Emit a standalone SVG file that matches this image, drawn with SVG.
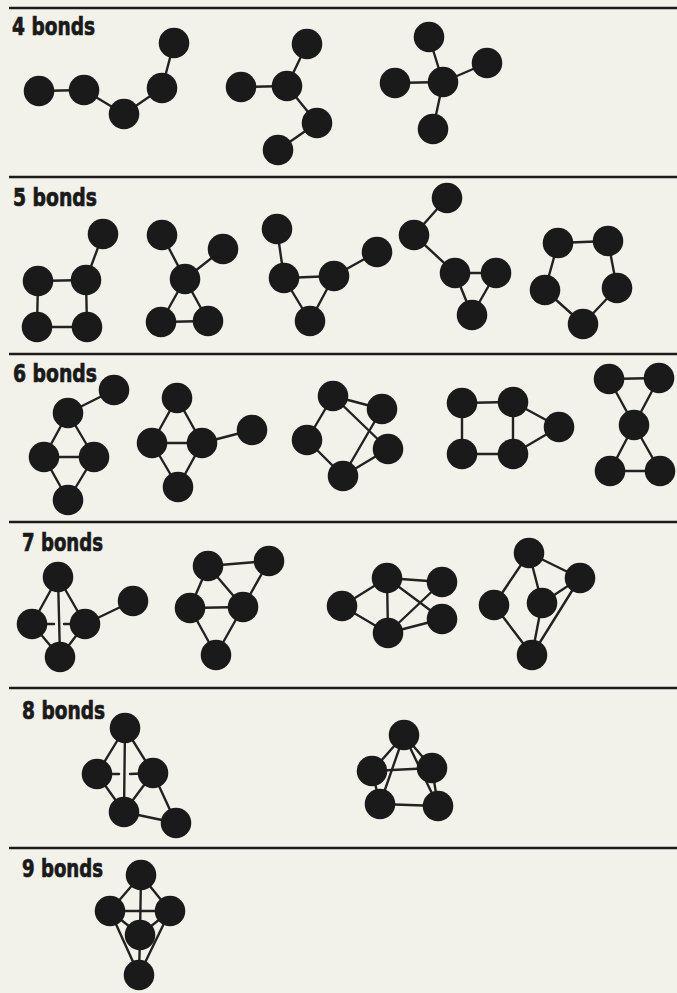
<svg xmlns="http://www.w3.org/2000/svg" width="677" height="993" viewBox="0 0 677 993">
<style>
.bg{fill:#f3f2ea}
.rule{stroke:#1c1c1c;stroke-width:2.6}
.b{stroke:#222;stroke-width:2.4;stroke-linecap:round}
.n{fill:#1a1a1a}
.lbl{font-family:"Liberation Sans Narrow","DejaVu Sans Condensed","Roboto Condensed","Liberation Sans",sans-serif;font-weight:bold;font-size:25px;fill:#1a1a1a;stroke:#1a1a1a;stroke-width:0.7}
</style>
<rect class="bg" x="0" y="0" width="677" height="993"/>
<g id="rules">
<line class="rule" x1="9" y1="8" x2="677" y2="8"/>
<line class="rule" x1="9" y1="177" x2="677" y2="177"/>
<line class="rule" x1="9" y1="354" x2="677" y2="354"/>
<line class="rule" x1="9" y1="522" x2="677" y2="522"/>
<line class="rule" x1="9" y1="688" x2="677" y2="688"/>
<line class="rule" x1="9" y1="848" x2="677" y2="848"/>
</g>
<g id="labels">
<text class="lbl" x="12" y="35" textLength="83" lengthAdjust="spacingAndGlyphs">4 bonds</text>
<text class="lbl" x="13" y="206" textLength="84" lengthAdjust="spacingAndGlyphs">5 bonds</text>
<text class="lbl" x="13" y="382" textLength="84" lengthAdjust="spacingAndGlyphs">6 bonds</text>
<text class="lbl" x="22" y="551" textLength="81" lengthAdjust="spacingAndGlyphs">7 bonds</text>
<text class="lbl" x="22" y="719" textLength="83" lengthAdjust="spacingAndGlyphs">8 bonds</text>
<text class="lbl" x="22" y="877" textLength="81" lengthAdjust="spacingAndGlyphs">9 bonds</text>
</g>
<g id="connectors">
<!-- 4 bonds -->
<line class="b" x1="39" y1="91" x2="84" y2="90"/>
<line class="b" x1="84" y1="90" x2="124" y2="114"/>
<line class="b" x1="124" y1="114" x2="162" y2="88"/>
<line class="b" x1="162" y1="88" x2="174" y2="43"/>
<line class="b" x1="241" y1="87" x2="287" y2="86"/>
<line class="b" x1="287" y1="86" x2="307" y2="44"/>
<line class="b" x1="287" y1="86" x2="317" y2="123"/>
<line class="b" x1="317" y1="123" x2="278" y2="150"/>
<line class="b" x1="443" y1="82" x2="429" y2="37"/>
<line class="b" x1="443" y1="82" x2="395" y2="83"/>
<line class="b" x1="443" y1="82" x2="487" y2="63"/>
<line class="b" x1="443" y1="82" x2="433" y2="129"/>
<!-- 5 bonds -->
<line class="b" x1="103" y1="234" x2="86" y2="280"/>
<line class="b" x1="86" y1="280" x2="38" y2="281"/>
<line class="b" x1="38" y1="281" x2="37" y2="327"/>
<line class="b" x1="37" y1="327" x2="87" y2="327"/>
<line class="b" x1="87" y1="327" x2="86" y2="280"/>
<line class="b" x1="162" y1="235" x2="185" y2="279"/>
<line class="b" x1="223" y1="249" x2="185" y2="279"/>
<line class="b" x1="185" y1="279" x2="161" y2="322"/>
<line class="b" x1="185" y1="279" x2="208" y2="321"/>
<line class="b" x1="161" y1="322" x2="208" y2="321"/>
<line class="b" x1="277" y1="229" x2="284" y2="278"/>
<line class="b" x1="284" y1="278" x2="334" y2="276"/>
<line class="b" x1="284" y1="278" x2="310" y2="321"/>
<line class="b" x1="334" y1="276" x2="310" y2="321"/>
<line class="b" x1="334" y1="276" x2="377" y2="252"/>
<line class="b" x1="447" y1="198" x2="414" y2="235"/>
<line class="b" x1="414" y1="235" x2="455" y2="273"/>
<line class="b" x1="455" y1="273" x2="496" y2="273"/>
<line class="b" x1="455" y1="273" x2="472" y2="315"/>
<line class="b" x1="496" y1="273" x2="472" y2="315"/>
<line class="b" x1="558" y1="243" x2="608" y2="241"/>
<line class="b" x1="608" y1="241" x2="617" y2="288"/>
<line class="b" x1="617" y1="288" x2="583" y2="324"/>
<line class="b" x1="583" y1="324" x2="545" y2="290"/>
<line class="b" x1="545" y1="290" x2="558" y2="243"/>
<!-- 6 bonds -->
<line class="b" x1="114" y1="390" x2="68" y2="413"/>
<line class="b" x1="68" y1="413" x2="44" y2="457"/>
<line class="b" x1="68" y1="413" x2="94" y2="457"/>
<line class="b" x1="44" y1="457" x2="94" y2="457"/>
<line class="b" x1="44" y1="457" x2="68" y2="500"/>
<line class="b" x1="94" y1="457" x2="68" y2="500"/>
<line class="b" x1="177" y1="398" x2="152" y2="443"/>
<line class="b" x1="177" y1="398" x2="202" y2="443"/>
<line class="b" x1="152" y1="443" x2="202" y2="443"/>
<line class="b" x1="202" y1="443" x2="252" y2="430"/>
<line class="b" x1="152" y1="443" x2="178" y2="487"/>
<line class="b" x1="202" y1="443" x2="178" y2="487"/>
<line class="b" x1="333" y1="396" x2="307" y2="440"/>
<line class="b" x1="333" y1="396" x2="382" y2="409"/>
<line class="b" x1="333" y1="396" x2="388" y2="449"/>
<line class="b" x1="307" y1="440" x2="343" y2="476"/>
<line class="b" x1="343" y1="476" x2="382" y2="409"/>
<line class="b" x1="343" y1="476" x2="388" y2="449"/>
<line class="b" x1="462" y1="403" x2="513" y2="402"/>
<line class="b" x1="513" y1="402" x2="559" y2="427"/>
<line class="b" x1="559" y1="427" x2="513" y2="454"/>
<line class="b" x1="513" y1="454" x2="462" y2="454"/>
<line class="b" x1="462" y1="454" x2="462" y2="403"/>
<line class="b" x1="513" y1="402" x2="513" y2="454"/>
<line class="b" x1="609" y1="379" x2="659" y2="378"/>
<line class="b" x1="609" y1="379" x2="634" y2="425"/>
<line class="b" x1="659" y1="378" x2="634" y2="425"/>
<line class="b" x1="634" y1="425" x2="610" y2="471"/>
<line class="b" x1="634" y1="425" x2="660" y2="471"/>
<line class="b" x1="610" y1="471" x2="660" y2="471"/>
<!-- 7 bonds -->
<line class="b" x1="58" y1="577" x2="32" y2="624"/>
<line class="b" x1="58" y1="577" x2="85" y2="624"/>
<line class="b" x1="58" y1="577" x2="60" y2="657"/>
<line class="b" x1="32" y1="624" x2="54" y2="624"/>
<line class="b" x1="64" y1="624" x2="85" y2="624"/>
<line class="b" x1="32" y1="624" x2="60" y2="657"/>
<line class="b" x1="85" y1="624" x2="60" y2="657"/>
<line class="b" x1="85" y1="624" x2="133" y2="601"/>
<line class="b" x1="208" y1="566" x2="269" y2="561"/>
<line class="b" x1="208" y1="566" x2="190" y2="608"/>
<line class="b" x1="208" y1="566" x2="243" y2="607"/>
<line class="b" x1="269" y1="561" x2="243" y2="607"/>
<line class="b" x1="190" y1="608" x2="243" y2="607"/>
<line class="b" x1="190" y1="608" x2="216" y2="655"/>
<line class="b" x1="243" y1="607" x2="216" y2="655"/>
<line class="b" x1="342" y1="606" x2="387" y2="578"/>
<line class="b" x1="342" y1="606" x2="388" y2="633"/>
<line class="b" x1="387" y1="578" x2="388" y2="633"/>
<line class="b" x1="387" y1="578" x2="442" y2="582"/>
<line class="b" x1="387" y1="578" x2="442" y2="619"/>
<line class="b" x1="442" y1="582" x2="388" y2="633"/>
<line class="b" x1="388" y1="633" x2="442" y2="619"/>
<line class="b" x1="529" y1="553" x2="580" y2="578"/>
<line class="b" x1="529" y1="553" x2="494" y2="605"/>
<line class="b" x1="529" y1="553" x2="542" y2="603"/>
<line class="b" x1="580" y1="578" x2="542" y2="603"/>
<line class="b" x1="494" y1="605" x2="532" y2="655"/>
<line class="b" x1="542" y1="603" x2="532" y2="655"/>
<line class="b" x1="580" y1="578" x2="532" y2="655"/>
<!-- 8 bonds -->
<line class="b" x1="125" y1="728" x2="97" y2="774"/>
<line class="b" x1="125" y1="728" x2="153" y2="773"/>
<line class="b" x1="125" y1="728" x2="124" y2="812"/>
<line class="b" x1="97" y1="774" x2="119" y2="774"/>
<line class="b" x1="130" y1="774" x2="153" y2="773"/>
<line class="b" x1="97" y1="774" x2="124" y2="812"/>
<line class="b" x1="153" y1="773" x2="124" y2="812"/>
<line class="b" x1="153" y1="773" x2="176" y2="823"/>
<line class="b" x1="124" y1="812" x2="176" y2="823"/>
<line class="b" x1="404" y1="735" x2="372" y2="771"/>
<line class="b" x1="404" y1="735" x2="432" y2="768"/>
<line class="b" x1="404" y1="735" x2="380" y2="804"/>
<line class="b" x1="404" y1="735" x2="438" y2="806"/>
<line class="b" x1="372" y1="771" x2="432" y2="768"/>
<line class="b" x1="372" y1="771" x2="380" y2="804"/>
<line class="b" x1="432" y1="768" x2="438" y2="806"/>
<line class="b" x1="380" y1="804" x2="438" y2="806"/>
<!-- 9 bonds -->
<line class="b" x1="141" y1="875" x2="110" y2="911"/>
<line class="b" x1="141" y1="875" x2="170" y2="911"/>
<line class="b" x1="141" y1="875" x2="140" y2="935"/>
<line class="b" x1="110" y1="911" x2="170" y2="911"/>
<line class="b" x1="110" y1="911" x2="140" y2="935"/>
<line class="b" x1="170" y1="911" x2="140" y2="935"/>
<line class="b" x1="110" y1="911" x2="139" y2="975"/>
<line class="b" x1="170" y1="911" x2="139" y2="975"/>
<line class="b" x1="140" y1="935" x2="139" y2="975"/>
</g>
<g id="m4a"><circle class="n" cx="39" cy="91" r="15.3"/><circle class="n" cx="84" cy="90" r="15.3"/><circle class="n" cx="124" cy="114" r="15.3"/><circle class="n" cx="162" cy="88" r="15.3"/><circle class="n" cx="174" cy="43" r="15.3"/></g>
<g id="m4b"><circle class="n" cx="241" cy="87" r="15.3"/><circle class="n" cx="287" cy="86" r="15.3"/><circle class="n" cx="307" cy="44" r="15.3"/><circle class="n" cx="317" cy="123" r="15.3"/><circle class="n" cx="278" cy="150" r="15.3"/></g>
<g id="m4c"><circle class="n" cx="429" cy="37" r="15.3"/><circle class="n" cx="395" cy="83" r="15.3"/><circle class="n" cx="443" cy="82" r="15.3"/><circle class="n" cx="487" cy="63" r="15.3"/><circle class="n" cx="433" cy="129" r="15.3"/></g>
<g id="m5a"><circle class="n" cx="103" cy="234" r="15.3"/><circle class="n" cx="86" cy="280" r="15.3"/><circle class="n" cx="38" cy="281" r="15.3"/><circle class="n" cx="37" cy="327" r="15.3"/><circle class="n" cx="87" cy="327" r="15.3"/></g>
<g id="m5b"><circle class="n" cx="162" cy="235" r="15.3"/><circle class="n" cx="223" cy="249" r="15.3"/><circle class="n" cx="185" cy="279" r="15.3"/><circle class="n" cx="161" cy="322" r="15.3"/><circle class="n" cx="208" cy="321" r="15.3"/></g>
<g id="m5c"><circle class="n" cx="277" cy="229" r="15.3"/><circle class="n" cx="284" cy="278" r="15.3"/><circle class="n" cx="334" cy="276" r="15.3"/><circle class="n" cx="310" cy="321" r="15.3"/><circle class="n" cx="377" cy="252" r="15.3"/></g>
<g id="m5d"><circle class="n" cx="447" cy="198" r="15.3"/><circle class="n" cx="414" cy="235" r="15.3"/><circle class="n" cx="455" cy="273" r="15.3"/><circle class="n" cx="496" cy="273" r="15.3"/><circle class="n" cx="472" cy="315" r="15.3"/></g>
<g id="m5e"><circle class="n" cx="558" cy="243" r="15.3"/><circle class="n" cx="608" cy="241" r="15.3"/><circle class="n" cx="617" cy="288" r="15.3"/><circle class="n" cx="583" cy="324" r="15.3"/><circle class="n" cx="545" cy="290" r="15.3"/></g>
<g id="m6a"><circle class="n" cx="114" cy="390" r="15.3"/><circle class="n" cx="68" cy="413" r="15.3"/><circle class="n" cx="44" cy="457" r="15.3"/><circle class="n" cx="94" cy="457" r="15.3"/><circle class="n" cx="68" cy="500" r="15.3"/></g>
<g id="m6b"><circle class="n" cx="177" cy="398" r="15.3"/><circle class="n" cx="152" cy="443" r="15.3"/><circle class="n" cx="202" cy="443" r="15.3"/><circle class="n" cx="252" cy="430" r="15.3"/><circle class="n" cx="178" cy="487" r="15.3"/></g>
<g id="m6c"><circle class="n" cx="333" cy="396" r="15.3"/><circle class="n" cx="307" cy="440" r="15.3"/><circle class="n" cx="382" cy="409" r="15.3"/><circle class="n" cx="388" cy="449" r="15.3"/><circle class="n" cx="343" cy="476" r="15.3"/></g>
<g id="m6d"><circle class="n" cx="462" cy="403" r="15.3"/><circle class="n" cx="513" cy="402" r="15.3"/><circle class="n" cx="559" cy="427" r="15.3"/><circle class="n" cx="513" cy="454" r="15.3"/><circle class="n" cx="462" cy="454" r="15.3"/></g>
<g id="m6e"><circle class="n" cx="609" cy="379" r="15.3"/><circle class="n" cx="659" cy="378" r="15.3"/><circle class="n" cx="634" cy="425" r="15.3"/><circle class="n" cx="610" cy="471" r="15.3"/><circle class="n" cx="660" cy="471" r="15.3"/></g>
<g id="m7a"><circle class="n" cx="58" cy="577" r="15.3"/><circle class="n" cx="32" cy="624" r="15.3"/><circle class="n" cx="85" cy="624" r="15.3"/><circle class="n" cx="60" cy="657" r="15.3"/><circle class="n" cx="133" cy="601" r="15.3"/></g>
<g id="m7b"><circle class="n" cx="208" cy="566" r="15.3"/><circle class="n" cx="269" cy="561" r="15.3"/><circle class="n" cx="190" cy="608" r="15.3"/><circle class="n" cx="243" cy="607" r="15.3"/><circle class="n" cx="216" cy="655" r="15.3"/></g>
<g id="m7c"><circle class="n" cx="342" cy="606" r="15.3"/><circle class="n" cx="387" cy="578" r="15.3"/><circle class="n" cx="442" cy="582" r="15.3"/><circle class="n" cx="442" cy="619" r="15.3"/><circle class="n" cx="388" cy="633" r="15.3"/></g>
<g id="m7d"><circle class="n" cx="529" cy="553" r="15.3"/><circle class="n" cx="580" cy="578" r="15.3"/><circle class="n" cx="494" cy="605" r="15.3"/><circle class="n" cx="542" cy="603" r="15.3"/><circle class="n" cx="532" cy="655" r="15.3"/></g>
<g id="m8a"><circle class="n" cx="125" cy="728" r="15.3"/><circle class="n" cx="97" cy="774" r="15.3"/><circle class="n" cx="153" cy="773" r="15.3"/><circle class="n" cx="124" cy="812" r="15.3"/><circle class="n" cx="176" cy="823" r="15.3"/></g>
<g id="m8b"><circle class="n" cx="404" cy="735" r="15.3"/><circle class="n" cx="372" cy="771" r="15.3"/><circle class="n" cx="432" cy="768" r="15.3"/><circle class="n" cx="380" cy="804" r="15.3"/><circle class="n" cx="438" cy="806" r="15.3"/></g>
<g id="m9a"><circle class="n" cx="141" cy="875" r="15.3"/><circle class="n" cx="110" cy="911" r="15.3"/><circle class="n" cx="170" cy="911" r="15.3"/><circle class="n" cx="140" cy="935" r="15.3"/><circle class="n" cx="139" cy="975" r="15.3"/></g>
</svg>
